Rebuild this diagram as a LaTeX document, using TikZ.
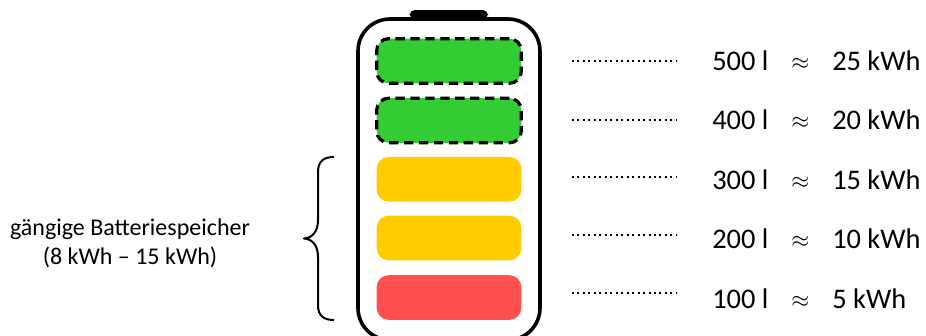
\documentclass[tikz,border=0pt]{standalone}
\usepackage{fontspec}
\setmainfont{Carlito}
\tikzset{
    bar/.style={rounded corners=9pt,minimum width=108.5pt,minimum height=33.5pt,inner sep=0pt},
    reserve/.style={bar,fill=barGreen,draw=black,line width=2.4pt,dash pattern=on 7pt off 4.2pt},
    wert/.style={anchor=base west,inner sep=0pt,font=\fontsize{21.3}{24}\selectfont},
    hinweis/.style={dash pattern=on 1.5pt off 2.6pt,line width=1.5pt},
}
\definecolor{barGreen}{HTML}{33CC33}
\definecolor{barYellow}{HTML}{FFCC00}
\definecolor{barRed}{HTML}{FF5050}

\begin{document}
\begin{tikzpicture}[x=0.75pt,y=-0.75pt]
    \useasboundingbox (0,0) rectangle (926,336);
    \clip (0,0) rectangle (926,336);
    % battery
    \fill[rounded corners=4pt] (409.5,19)--(409.5,10)--(488,10)--(488,19)--cycle;
    \draw[line width=2.7pt,rounded corners=24pt] (358,19) rectangle (540,340);
    % cells
    \node[reserve] (C5) at (449,61) {};
    \node[reserve] (C4) at (449,120.5) {};
    \node[bar,fill=barYellow] (C3) at (449,179.3) {};
    \node[bar,fill=barYellow] (C2) at (449,238) {};
    \node[bar,fill=barRed] (C1) at (449,297.5) {};
    % dotted lines
    \coordinate (A5) at (572,61);   \coordinate (B5) at (677,61);
    \coordinate (A4) at (572,120);  \coordinate (B4) at (677,120);
    \coordinate (A3) at (572,177);  \coordinate (B3) at (677,177);
    \coordinate (A2) at (572,235);  \coordinate (B2) at (677,235);
    \coordinate (A1) at (572,293);  \coordinate (B1) at (677,293);
    \foreach \n in {1,...,5}
        \draw[hinweis] (A\n)--(B\n);
    % values
    \foreach \n/\liter/\kwh/\yy in {5/500/25/70,4/400/20/129,3/300/15/189,2/200/10/248,1/100/5/308}{
        \node[wert] (L\n) at (712,\yy) {\liter\ l};
        \node[wert,font=\fontsize{18}{24}\selectfont] (E\n) at (791,\yy-1) {$\approx$};
        \node[wert] (K\n) at (832,\yy) {\kwh\ kWh};
    }
    % brace
    \draw[line width=1.5pt,line join=round] (334,157) .. controls (324,157) and (318,161) .. (318,172)
        -- (318,220) .. controls (318,232) and (312,238) .. (304,238.5)
        .. controls (312,239) and (318,245) .. (318,257)
        -- (318,305) .. controls (318,316) and (324,320) .. (334,320);
    \node[align=center,inner sep=0pt,font=\fontsize{18}{22}\selectfont] (T) at (130,243) {gängige Batteriespeicher\\(8 kWh – 15 kWh)};
\end{tikzpicture}
\end{document}
